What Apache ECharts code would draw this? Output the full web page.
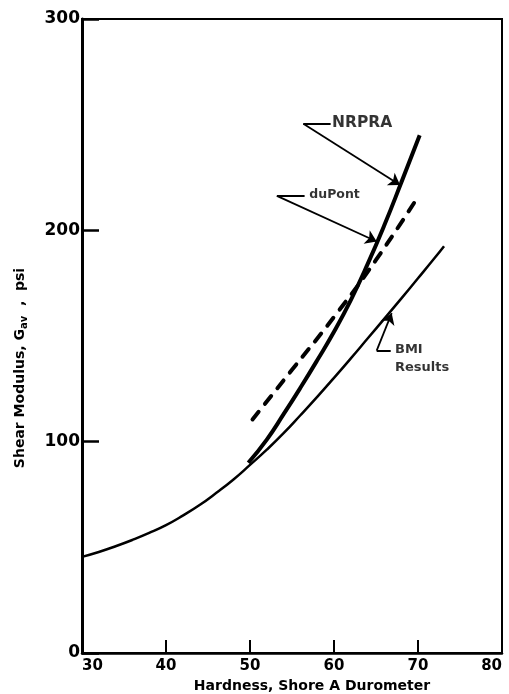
<!DOCTYPE html>
<html>
<head>
<meta charset="utf-8">
<script src="https://cdn.jsdelivr.net/npm/echarts@6/dist/echarts.min.js"></script>
<style>
  html, body { margin: 0; padding: 0; background: #fff; }
  #chart { width: 509px; height: 694px; }
</style>
</head>
<body>
<div id="chart"></div>
<script>
// Shear modulus vs. Shore A hardness for three sources.
const xTickLabels = ['30', '40', '50', '60', '70', '80'];
const yTickLabels = ['0', '100', '200', '300'];

// BMI results (thin solid curve)
const bmiHardness = [30, 32, 34, 36, 38, 40, 42, 44, 46, 48, 50, 52, 54, 56, 58, 60, 62, 64, 66, 68, 70, 72, 73.1];
const bmiModulus  = [45.5, 47.8, 50.5, 53.5, 56.8, 60.5, 65, 70, 75.8, 82, 89, 96.2, 104, 112.5, 121.2, 130.2, 139.4, 148.8, 158.2, 167.7, 177.3, 187, 192.5];

// NRPRA (heavy solid curve)
const nrpraHardness = [49.8, 52, 54, 56, 58, 60, 62, 64, 66, 68, 70.2];
const nrpraModulus  = [90, 101, 113, 125.5, 138.5, 152, 167, 184, 202.5, 222.5, 245];

// duPont (heavy dashed curve)
const dupontHardness = [50.3, 55, 60, 65, 70.1];
const dupontModulus  = [110.5, 134, 159, 186, 216.5];

// Callout leaders: [corner, end of horizontal stub, arrow tip] in data units
const nrpraLeader  = [[56.35, 250.4], [59.6, 250.4], [67.86, 221.5]];
const dupontLeader = [[53.2, 216.3], [56.5, 216.3], [65.08, 194.7]];
const bmiLeader    = [[65.08, 143.1], [66.75, 143.1], [66.87, 160.8]];

// Callout text anchors (left edge, vertical middle)
const calloutNames = ['NRPRA', 'duPont', 'BMI', 'Results'];
const calloutX = [59.7, 57.0, 67.2, 67.2];
const calloutY = [250.6, 216.8, 143.4, 134.9];
const calloutSize = [15.5, 12.5, 13, 13];

const zip = (xs, ys) => xs.map((x, i) => [x, ys[i]]);
const FONT = 'DejaVu Sans';

const chart = echarts.init(document.getElementById('chart'), null, { renderer: 'canvas' });

chart.setOption({
  animation: false,
  backgroundColor: '#fff',
  grid: {
    left: 82, right: 7, top: 19, bottom: 41,
    outerBoundsMode: 'none', containLabel: false,
    show: true, borderColor: '#000', borderWidth: 2
  },
  xAxis: {
    type: 'value', min: 30, max: 80, interval: 10,
    axisLine: { show: true, lineStyle: { color: '#000', width: 2.5 } },
    axisTick: { show: true, inside: true, length: 13, lineStyle: { color: '#000', width: 2 } },
    axisLabel: {
      color: '#000', fontFamily: FONT, fontWeight: 'bold', fontSize: 15, margin: 6,
      alignMinLabel: 'left', alignMaxLabel: 'right',
      formatter: (v) => xTickLabels[Math.round((v - 30) / 10)]
    },
    splitLine: { show: false }
  },
  yAxis: {
    type: 'value', min: 0, max: 300, interval: 100,
    axisLine: { show: true, lineStyle: { color: '#000', width: 3 } },
    axisTick: { show: true, inside: true, length: 17, lineStyle: { color: '#000', width: 2.5 } },
    axisLabel: {
      color: '#000', fontFamily: FONT, fontWeight: 'bold', fontSize: 17, margin: 2,
      formatter: (v) => yTickLabels[Math.round(v / 100)]
    },
    splitLine: { show: false }
  },
  series: [
    {
      name: 'BMI', type: 'line', data: zip(bmiHardness, bmiModulus),
      smooth: 0.5, showSymbol: false, symbol: 'none',
      lineStyle: { color: '#000', width: 2.5 }
    },
    {
      name: 'NRPRA', type: 'line', data: zip(nrpraHardness, nrpraModulus),
      smooth: 0.5, showSymbol: false, symbol: 'none',
      lineStyle: { color: '#000', width: 4 }
    },
    {
      name: 'duPont', type: 'line', data: zip(dupontHardness, dupontModulus),
      smooth: 0.5, showSymbol: false, symbol: 'none',
      lineStyle: { color: '#000', width: 4, type: [10, 10], cap: 'round' }
    },
    {
      // horizontal stubs of the callouts
      type: 'lines', coordinateSystem: 'cartesian2d', symbol: 'none',
      lineStyle: { color: '#000', width: 2, opacity: 1 },
      data: [nrpraLeader, dupontLeader, bmiLeader].map(l => ({ coords: [l[0], l[1]] }))
    },
    {
      // slanted arrows of the callouts
      type: 'lines', coordinateSystem: 'cartesian2d',
      symbol: ['none', 'arrow'], symbolSize: [6, 11],
      lineStyle: { color: '#000', width: 1.8, opacity: 1 },
      data: [nrpraLeader, dupontLeader, bmiLeader].map(l => ({ coords: [l[0], l[2]] }))
    },
    {
      type: 'scatter', symbolSize: 1,
      itemStyle: { color: 'transparent' },
      silent: true,
      data: calloutNames.map((n, i) => ({
        name: n, value: [calloutX[i], calloutY[i]],
        label: { fontSize: calloutSize[i] }
      })),
      label: {
        show: true, position: 'right', distance: 0,
        formatter: (p) => p.name,
        color: '#000', fontFamily: FONT, fontWeight: 'bold', fontSize: 13,
        align: 'left', verticalAlign: 'middle'
      }
    }
  ],
  graphic: [
    {
      type: 'text', x: 312, y: 686,
      style: {
        text: 'Hardness, Shore A Durometer',
        font: 'bold 14px "DejaVu Sans"', fill: '#000',
        align: 'center', verticalAlign: 'middle'
      }
    },
    {
      type: 'text', x: 20, y: 368, rotation: Math.PI / 2,
      style: {
        text: '{m|Shear Modulus, G}{s|av}{m|  ,  psi}',
        align: 'center', verticalAlign: 'middle', fill: '#000',
        rich: {
          m: { font: 'bold 14px "DejaVu Sans"', fill: '#000', lineHeight: 18, verticalAlign: 'middle' },
          s: { font: 'bold 10px "DejaVu Sans"', fill: '#000', lineHeight: 18, verticalAlign: 'bottom', padding: [6, 0, 0, 0] }
        }
      }
    }
  ]
});
</script>
</body>
</html>
